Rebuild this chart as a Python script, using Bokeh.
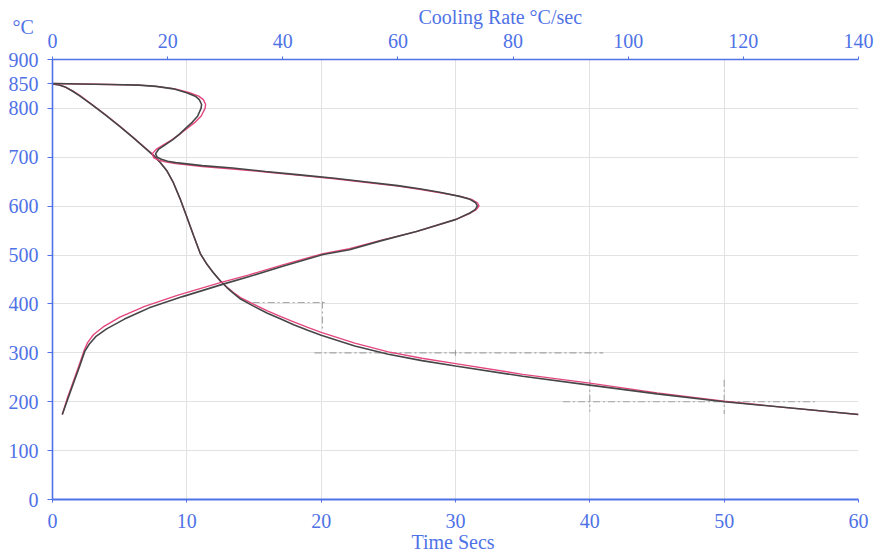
from bokeh.plotting import figure
from bokeh.models import Range1d, LinearAxis, FixedTicker, Title
from bokeh.embed import file_html
from bokeh.resources import INLINE

# ---- data ----
# cooling curve: temperature (°C) vs time (s)  (dark trace)
cool_time = [0, 0.5, 1.0, 1.5, 2.0, 3.0, 4.0, 5.0, 6.0, 7.0, 7.5, 8.0, 8.5, 9.0, 9.5,
             10.0, 10.5, 11.0, 11.5, 12.0, 12.5, 13.0, 13.5, 14.0, 15.0, 16.0, 17.0,
             18.0, 19.0, 20.0, 22.5, 25.0, 27.5, 30.0, 35.0, 40.0, 45.0, 50.0, 55.0, 60.0]
cool_temp = [850, 848, 843, 835, 826, 806, 785, 763, 740, 716, 704, 690, 673, 648, 615,
             578, 540, 503, 481, 463, 447, 433, 421, 410, 395, 381, 369,
             357, 346, 336, 314, 297, 284, 273, 252, 234, 216, 200, 187, 174]
# cooling curve, pink trace
cool_temp_pink = [850, 848, 843, 836, 827, 807, 786, 764, 741, 717, 705, 690, 673, 648, 615,
                  578, 540, 503, 481, 463, 447, 434, 423, 413, 399, 386, 374,
                  363, 352, 342, 320, 302, 289, 278, 256, 238, 218, 201, 187, 174]

# cooling-rate curve: temperature (°C) vs cooling rate (°C/s)  (dark trace)
rate_value = [0, 5, 10, 15, 18, 21, 23.3, 24.8, 25.5, 25.9, 25.8, 25.2, 24.3, 23.3, 22.1,
              20.9, 19.5, 18.4, 17.9, 18.2, 18.9, 20.0, 21.4, 26, 31.3, 37, 43, 49, 55,
              60, 64, 67.5, 70.7, 72.5, 73.5, 73.8, 73.4, 72.5, 70.1, 66.5, 63.2, 57,
              51.6, 47, 40, 34.2, 29.5, 22.6, 16.8, 15.1, 12.5, 9.4, 7.5, 6.4, 5.6,
              4.7, 3.7, 2.7, 1.7]
rate_temp = [851, 850, 849, 847.5, 845, 840, 832, 825, 818, 808, 800, 784, 772, 761, 748,
             736, 725, 716, 707, 700, 696, 692, 689, 683, 678, 671, 664, 657, 649,
             642, 635, 628, 620, 614, 607, 600, 593, 586, 573, 560, 548, 529,
             511, 501, 477, 456, 440, 415, 392, 383, 369, 349, 333, 318, 303,
             272, 240, 207, 174]
# cooling-rate curve, pink trace
rate_value_pink = [0, 5, 10, 15, 18, 21.3, 23.8, 25.4, 26.2, 26.6, 26.5, 25.8, 24.8, 23.6, 22.2,
                   20.8, 19.2, 18.0, 17.3, 17.6, 18.5, 19.8, 21.4, 26, 31.3, 37, 43, 49, 55,
                   60, 64, 67.6, 70.9, 72.8, 73.8, 74.1, 73.6, 72.6, 70.1, 66.5, 63.2, 57,
                   51.6, 47, 40, 34.0, 29.0, 21.8, 16.0, 14.2, 11.7, 8.8, 7.1, 6.1, 5.5,
                   4.6, 3.6, 2.6, 1.7]
rate_temp_pink = [851, 850, 849, 847.5, 845, 840, 832, 825, 818, 808, 800, 784, 772, 761, 748,
                  736, 725, 716, 707, 699, 694, 690, 687, 681, 676, 670, 663, 656, 648,
                  641, 634, 627, 620, 614, 607, 600, 593, 586, 573, 560, 548, 530,
                  513, 503, 480, 459, 443, 418, 395, 386, 373, 353, 337, 321, 305,
                  274, 241, 208, 174]

# faint dashed reading-marks seen on the scan (time s, °C)
mark_xs = [[14.9, 20.4], [20.1, 20.1], [19.5, 41.0], [38.0, 57.0], [40.0, 40.0], [50.0, 50.0], [30.0, 30.0]]
mark_ys = [[403, 403], [405, 345], [300, 300], [200, 200], [245, 180], [245, 175], [306, 294]]

time_ticks = [0, 10, 20, 30, 40, 50, 60]
rate_ticks = [0, 20, 40, 60, 80, 100, 120, 140]
temp_ticks = [0, 100, 200, 300, 400, 500, 600, 700, 800, 850, 900]
grid_time = [10, 20, 30, 40, 50, 60]
grid_temp = [100, 200, 300, 400, 500, 600, 700, 800]

BLUE = "#4f72e6"
FONT = "Liberation Serif"

p = figure(width=885, height=555, output_backend="svg", toolbar_location=None,
           x_range=Range1d(0, 60), y_range=Range1d(0, 900),
           min_border_left=52, min_border_right=27, min_border_top=59, min_border_bottom=55)
p.extra_x_ranges = {"rate": Range1d(0, 140)}
p.outline_line_color = None
p.background_fill_color = "white"
p.border_fill_color = "white"

top = LinearAxis(x_range_name="rate")
p.add_layout(top, "above")

bottom = p.below[0]
left = p.left[0]
bottom.ticker = FixedTicker(ticks=time_ticks)
top.ticker = FixedTicker(ticks=rate_ticks)
left.ticker = FixedTicker(ticks=temp_ticks)

for ax in [bottom, top, left]:
    ax.axis_line_color = BLUE
    ax.axis_line_width = 1.6
    ax.major_tick_line_color = BLUE
    ax.minor_tick_line_color = None
    ax.major_label_text_color = BLUE
    ax.major_label_text_font = FONT
    ax.major_label_text_font_size = "20px"
    ax.major_tick_in = 0
    ax.major_tick_out = 3
bottom.axis_line_width = 2
bottom.major_label_standoff = 11
top.major_label_standoff = 9
left.major_tick_out = 5
left.major_label_standoff = 9

bottom.axis_label = "Time  Secs"
bottom.axis_label_text_font = FONT
bottom.axis_label_text_font_size = "20px"
bottom.axis_label_text_font_style = "normal"
bottom.axis_label_text_color = BLUE
bottom.axis_label_standoff = 0

p.xgrid.ticker = FixedTicker(ticks=grid_time)
p.ygrid.ticker = FixedTicker(ticks=grid_temp)
for g in [p.xgrid[0], p.ygrid[0]]:
    g.grid_line_color = "#e2e2e2"
    g.grid_line_width = 1

p.multi_line(mark_xs, mark_ys, line_color="#8c8c8c", line_width=1.1,
             line_dash="7 3 2 3", line_alpha=0.75)

PINK = "#e4467f"
DARK = "#464646"
p.line(cool_time, cool_temp_pink, line_color=PINK, line_width=1.4)
p.line(cool_time, cool_temp, line_color=DARK, line_width=1.6)
p.line(rate_value_pink, rate_temp_pink, x_range_name="rate", line_color=PINK, line_width=1.4)
p.line(rate_value, rate_temp, x_range_name="rate", line_color=DARK, line_width=1.6)

# texts above the top axis (stacked titles, pulled down with negative standoff)
t_deg = Title(text="°C", align="left", offset=-40, standoff=-14,
              text_font=FONT, text_font_size="20px", text_font_style="normal",
              text_color=BLUE)
t_rate = Title(text="Cooling Rate  °C/sec", align="left", offset=366, standoff=-14,
               text_font=FONT, text_font_size="20px", text_font_style="normal",
               text_color=BLUE)
p.add_layout(t_deg, "above")
p.add_layout(t_rate, "above")

open("out.html", "w").write(file_html(p, INLINE))
